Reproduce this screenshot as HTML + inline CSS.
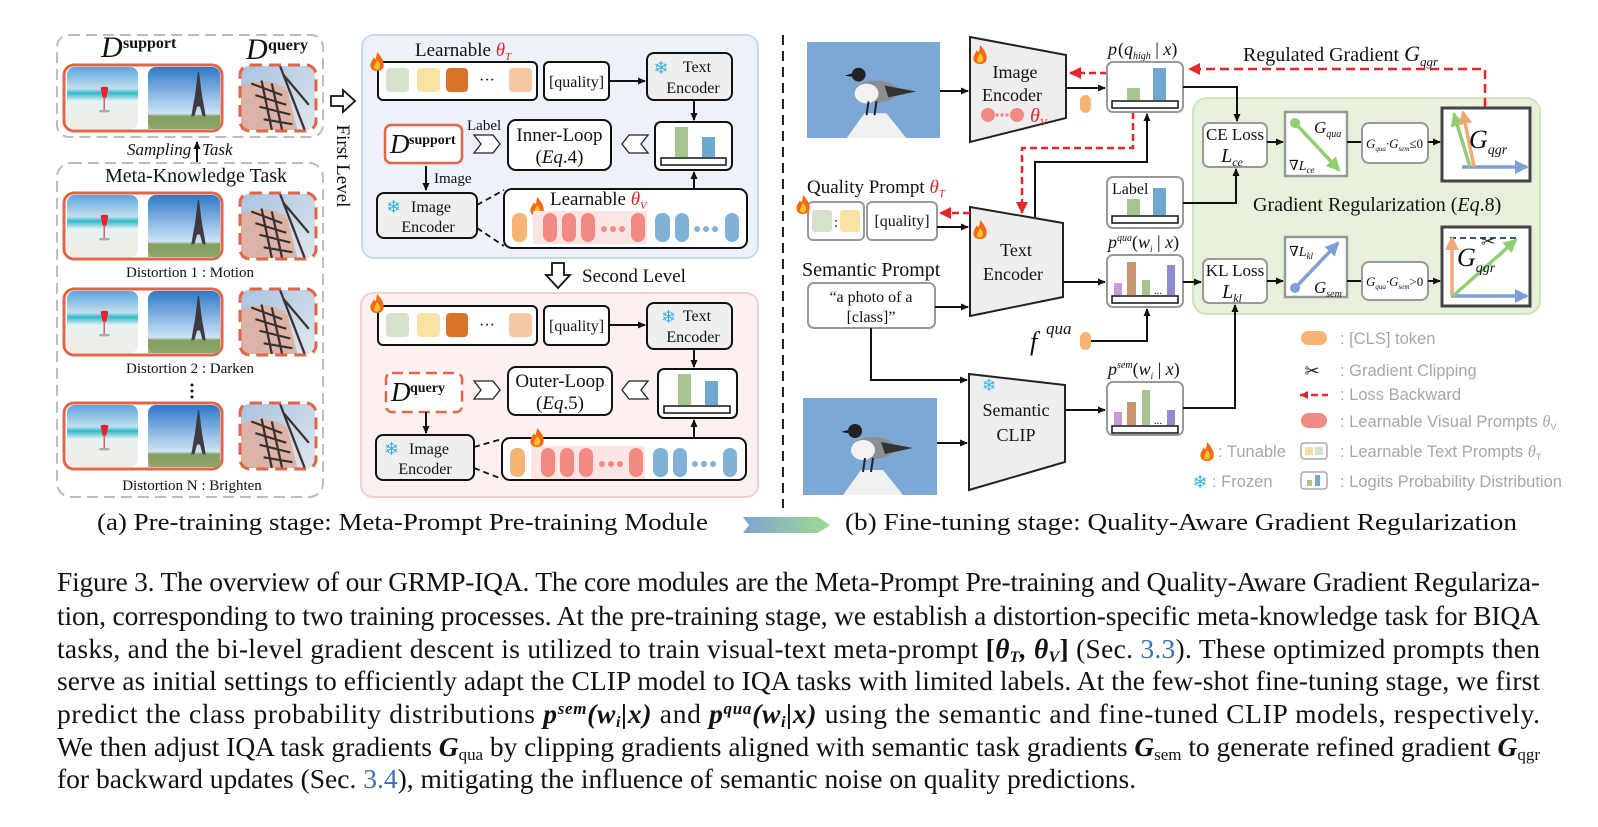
<!DOCTYPE html>
<html><head><meta charset="utf-8"><style>
html,body{margin:0;padding:0;background:#fff;}
svg{display:block;}
text{font-family:"Liberation Serif","DejaVu Serif",serif;fill:#111;}
.s{font-family:"Liberation Sans","DejaVu Sans",sans-serif;}
.lg{font-family:"Liberation Sans","DejaVu Sans",sans-serif;fill:#a6a6a6;font-size:16.5px;}
</style></head><body>
<svg width="1598" height="827" viewBox="0 0 1598 827" xmlns="http://www.w3.org/2000/svg">
<defs>
<marker id="ab" markerWidth="8" markerHeight="8" refX="7" refY="4" orient="auto" markerUnits="userSpaceOnUse"><path d="M0,0.5 L8,4 L0,7.5Z" fill="#111"/></marker>
<marker id="ar" markerWidth="12" markerHeight="12" refX="11" refY="6" orient="auto" markerUnits="userSpaceOnUse"><path d="M0,0 L12,6 L0,12Z" fill="#e8252a"/></marker>
<marker id="ag" markerWidth="14" markerHeight="14" refX="12" refY="7" orient="auto" markerUnits="userSpaceOnUse"><path d="M0,0 L14,7 L0,14Z" fill="#8fcf6f"/></marker>
<marker id="abl" markerWidth="14" markerHeight="14" refX="12" refY="7" orient="auto" markerUnits="userSpaceOnUse"><path d="M0,0 L14,7 L0,14Z" fill="#7f9fd8"/></marker>
<marker id="ao" markerWidth="14" markerHeight="14" refX="12" refY="7" orient="auto" markerUnits="userSpaceOnUse"><path d="M0,0 L14,7 L0,14Z" fill="#f0a878"/></marker>
<linearGradient id="sky1" x1="0" y1="0" x2="0" y2="1"><stop offset="0" stop-color="#5fa3d8"/><stop offset="0.35" stop-color="#bfe0f0"/><stop offset="0.42" stop-color="#2fb8c8"/><stop offset="0.55" stop-color="#e8f2f2"/><stop offset="1" stop-color="#f1ece4"/></linearGradient>
<linearGradient id="sky2" x1="0" y1="0" x2="0" y2="1"><stop offset="0" stop-color="#2f78c8"/><stop offset="0.75" stop-color="#cfe4f5"/><stop offset="0.8" stop-color="#7a9a5a"/><stop offset="1" stop-color="#9cae72"/></linearGradient>
<linearGradient id="sky3" x1="0" y1="0" x2="1" y2="1"><stop offset="0" stop-color="#a9c3df"/><stop offset="1" stop-color="#dfe7ef"/></linearGradient>
<linearGradient id="gar" x1="0" y1="0" x2="1" y2="0"><stop offset="0" stop-color="#7ea3d6"/><stop offset="1" stop-color="#9fdc8e"/></linearGradient>
<symbol id="beach" viewBox="0 0 72 66" preserveAspectRatio="none"><rect width="72" height="66" rx="8" fill="url(#sky1)"/><path d="M34,22 q4,-2 8,0 l-2,10 q-2,3 -4,0Z" fill="#e8202c"/><rect x="37" y="32" width="1.5" height="14" fill="#c66"/><ellipse cx="38" cy="47" rx="6" ry="1.5" fill="#aaa"/></symbol>
<symbol id="eiffel" viewBox="0 0 72 66" preserveAspectRatio="none"><rect width="72" height="66" rx="8" fill="url(#sky2)"/><path d="M50,5 L51,5 L54,30 L58,54 L55,54 L52,42 L49,42 L46,54 L43,54 L47,30Z" fill="#3a3a40"/><rect x="0" y="52" width="72" height="14" fill="#8aa064" opacity="0.8"/></symbol>
<symbol id="mill" viewBox="0 0 72 66" preserveAspectRatio="none"><rect width="72" height="66" rx="8" fill="url(#sky3)"/><path d="M0,20 Q30,10 45,25 L55,66 L0,66Z" fill="#dcb3a6"/><path d="M38,0 L62,66 M10,18 L40,30 M14,30 L44,40 M18,42 L48,50 M22,55 L50,60 M20,15 L30,66 M30,18 L40,66 M42,10 L66,40" stroke="#3a3030" stroke-width="2.2" fill="none"/></symbol>
<symbol id="bird" viewBox="0 0 134 97" preserveAspectRatio="none"><rect width="134" height="97" fill="#7da7d5"/><path d="M40,97 L58,72 L80,72 L100,97Z" fill="#eef0f2"/><ellipse cx="70" cy="50" rx="22" ry="11" fill="#8a8e95"/><ellipse cx="60" cy="52" rx="12" ry="10" fill="#f2f2f2"/><path d="M78,44 L110,50 L82,56Z" fill="#333"/><circle cx="52" cy="33" r="7" fill="#222"/><path d="M45,32 L38,34 L45,35Z" fill="#111"/><path d="M62,60 L60,74 M70,60 L68,74" stroke="#222" stroke-width="2"/></symbol>
<g id="fire"><path d="M0,-10 C6,-4 8,2 6,6 C4,10 -4,10 -6,6 C-8,2 -5,-1 -3,-5 C-2,-2 -1,-1 0,-10Z" fill="#f26a12"/><path d="M0,-2 C3,1 4,4 2,7 C0,8 -2,8 -3,6 C-3,3 -1,1 0,-2Z" fill="#ffc22e"/></g>
<g id="imgrow"><rect x="64" y="0" width="158" height="66" rx="10" fill="#fff" stroke="#e0654a" stroke-width="3"/><use href="#beach" x="67" y="2" width="71" height="62"/><use href="#eiffel" x="148" y="2" width="72" height="62"/><use href="#mill" x="241" y="1" width="74" height="64"/><rect x="240" y="0" width="76" height="66" rx="10" fill="none" stroke="#e0654a" stroke-width="3" stroke-dasharray="12 7"/></g>
</defs>

<!-- LEFT (a) -->
<rect x="57" y="35" width="266" height="102" rx="12" fill="none" stroke="#bdbdbd" stroke-width="2" stroke-dasharray="11 6"/>
<text x="101" y="57" font-size="30" font-style="italic">D</text><text x="123" y="48" font-size="16" font-weight="bold">support</text>
<text x="246" y="59" font-size="30" font-style="italic">D</text><text x="268" y="50" font-size="16" font-weight="bold">query</text>
<use href="#imgrow" x="0" y="65"/>
<text x="127" y="155" font-size="17" font-style="italic">Sampling</text>
<line x1="197" y1="162" x2="197" y2="142" stroke="#111" stroke-width="2" marker-end="url(#ab)"/>
<text x="202" y="155" font-size="17" font-style="italic">Task</text>
<rect x="57" y="163" width="266" height="334" rx="14" fill="none" stroke="#bdbdbd" stroke-width="2" stroke-dasharray="11 6"/>
<text x="196" y="182" font-size="20" text-anchor="middle">Meta-Knowledge Task</text>
<use href="#imgrow" x="0" y="193"/>
<text x="190" y="277" font-size="15" text-anchor="middle">Distortion 1 : Motion</text>
<use href="#imgrow" x="0" y="289"/>
<text x="190" y="373" font-size="15" text-anchor="middle">Distortion 2 : Darken</text>
<circle cx="192" cy="385" r="1.5" fill="#111"/><circle cx="192" cy="391" r="1.5" fill="#111"/><circle cx="192" cy="397" r="1.5" fill="#111"/>
<use href="#imgrow" x="0" y="403"/>
<text x="192" y="490" font-size="15" text-anchor="middle">Distortion N : Brighten</text>

<polygon points="331,96 343,96 343,90 355,101 343,112 343,106 331,106" fill="#fff" stroke="#111" stroke-width="1.8"/>
<text transform="translate(337,166) rotate(90)" font-size="19" text-anchor="middle">First  Level</text>

<!-- Blue box -->
<rect x="362" y="35" width="396" height="223" rx="12" fill="#edf2fa" stroke="#cbd8ea" stroke-width="2"/>
<text x="415" y="56" font-size="19">Learnable <tspan fill="#e0262b" font-style="italic">θ</tspan><tspan fill="#e0262b" font-style="italic" font-size="11" dy="4">T</tspan></text>
<rect x="378" y="62" width="159" height="38" rx="5" fill="#fff" stroke="#111" stroke-width="2"/>
<rect x="386" y="68" width="23" height="24" rx="4" fill="#d5e1c8"/><rect x="417" y="68" width="23" height="24" rx="4" fill="#f9e2a3"/><rect x="446" y="68" width="22" height="24" rx="4" fill="#d8732a"/><text x="487" y="85" font-size="16" text-anchor="middle">···</text><rect x="509" y="68" width="23" height="24" rx="4" fill="#f6c7a2"/>
<use href="#fire" x="377" y="62"/>
<rect x="544" y="62" width="65" height="38" rx="5" fill="#fff" stroke="#111" stroke-width="2"/><text x="576.5" y="87" font-size="16" text-anchor="middle">[quality]</text>
<line x1="609" y1="81" x2="645" y2="81" stroke="#111" stroke-width="2" marker-end="url(#ab)"/>
<rect x="647" y="53" width="85" height="47" rx="7" fill="#efefef" stroke="#111" stroke-width="2"/>
<text x="661" y="74" font-size="18" text-anchor="middle" class="s" style="fill:#38b3e0">❄</text>
<text x="697" y="72" font-size="16" text-anchor="middle">Text</text><text x="693" y="93" font-size="16" text-anchor="middle">Encoder</text>
<line x1="694" y1="100" x2="694" y2="120" stroke="#111" stroke-width="2" marker-end="url(#ab)"/>
<rect x="655" y="122" width="77" height="48" rx="6" fill="#fff" stroke="#111" stroke-width="2"/>
<rect x="675" y="127" width="13" height="30" fill="#a9c58f"/><rect x="702" y="137" width="13" height="20" fill="#6fa8cf"/>
<rect x="661" y="158" width="65" height="7" fill="#fff" stroke="#111" stroke-width="1.5"/>
<rect x="385" y="125" width="77" height="38" rx="6" fill="#fff" stroke="#e0654a" stroke-width="2.5"/>
<text x="390" y="153" font-size="27" font-style="italic">D</text><text x="409" y="144" font-size="14" font-weight="bold">support</text>
<text x="467" y="130" font-size="15">Label</text>
<polygon points="474,135 493,135 500,144 493,153 474,153 481,144" fill="#fff" stroke="#222" stroke-width="1.3"/>
<rect x="508" y="120" width="103" height="50" rx="8" fill="#fff" stroke="#111" stroke-width="2"/>
<text x="559.5" y="141" font-size="19" text-anchor="middle">Inner-Loop</text><text x="559.5" y="163" font-size="19" text-anchor="middle">(<tspan font-style="italic">Eq</tspan>.4)</text>
<polygon points="648,135 629,135 622,144 629,153 648,153 641,144" fill="#fff" stroke="#222" stroke-width="1.3"/>
<line x1="426" y1="166" x2="426" y2="190" stroke="#111" stroke-width="2" marker-end="url(#ab)"/>
<text x="434" y="183" font-size="15">Image</text>
<rect x="377" y="193" width="100" height="45" rx="7" fill="#efefef" stroke="#111" stroke-width="2"/>
<text x="386" y="213" font-size="18" class="s" style="fill:#38b3e0">❄</text>
<text x="431" y="212" font-size="16" text-anchor="middle">Image</text><text x="428" y="232" font-size="16" text-anchor="middle">Encoder</text>
<line x1="477" y1="205" x2="504" y2="190" stroke="#111" stroke-width="1.8" stroke-dasharray="6 4"/>
<line x1="477" y1="228" x2="504" y2="246" stroke="#111" stroke-width="1.8" stroke-dasharray="6 4"/>
<rect x="504" y="189" width="243" height="59" rx="8" fill="#fff" stroke="#111" stroke-width="2"/>
<text x="550" y="205" font-size="19">Learnable <tspan fill="#e0262b" font-style="italic">θ</tspan><tspan fill="#e0262b" font-style="italic" font-size="11" dy="4">V</tspan></text>
<use href="#fire" x="537" y="207"/>
<g id="tokA">
<rect x="512" y="213" width="15" height="29" rx="7" fill="#f6b477"/>
<rect x="533" y="211" width="114" height="33" fill="#fbe4e2"/>
<rect x="543" y="213" width="14" height="29" rx="7" fill="#f28983"/><rect x="562" y="213" width="14" height="29" rx="7" fill="#f28983"/><rect x="581" y="213" width="14" height="29" rx="7" fill="#f28983"/>
<circle cx="604" cy="229" r="3" fill="#f28983"/><circle cx="613" cy="229" r="3" fill="#f28983"/><circle cx="622" cy="229" r="3" fill="#f28983"/>
<rect x="631" y="213" width="14" height="29" rx="7" fill="#f28983"/>
<rect x="655" y="213" width="15" height="29" rx="7" fill="#7fb2d6"/><rect x="675" y="213" width="14" height="29" rx="7" fill="#7fb2d6"/>
<circle cx="697" cy="229" r="3" fill="#7fb2d6"/><circle cx="706" cy="229" r="3" fill="#7fb2d6"/><circle cx="715" cy="229" r="3" fill="#7fb2d6"/>
<rect x="725" y="213" width="14" height="29" rx="7" fill="#7fb2d6"/>
</g>
<line x1="694" y1="189" x2="694" y2="172" stroke="#111" stroke-width="2" marker-end="url(#ab)"/>

<polygon points="552,263 564,263 564,275 570,275 558,288 546,275 552,275" fill="#fff" stroke="#111" stroke-width="1.8"/>
<text x="582" y="282" font-size="19">Second  Level</text>

<!-- Pink box -->
<rect x="361" y="293" width="397" height="204" rx="12" fill="#fcf0f0" stroke="#f2d0d0" stroke-width="2"/>
<rect x="378" y="306" width="159" height="39" rx="5" fill="#fff" stroke="#111" stroke-width="2"/>
<rect x="386" y="313" width="23" height="24" rx="4" fill="#d5e1c8"/><rect x="417" y="313" width="23" height="24" rx="4" fill="#f9e2a3"/><rect x="446" y="313" width="22" height="24" rx="4" fill="#d8732a"/><text x="487" y="330" font-size="16" text-anchor="middle">···</text><rect x="509" y="313" width="23" height="24" rx="4" fill="#f6c7a2"/>
<use href="#fire" x="377" y="304"/>
<rect x="544" y="306" width="65" height="39" rx="5" fill="#fff" stroke="#111" stroke-width="2"/><text x="576.5" y="331" font-size="16" text-anchor="middle">[quality]</text>
<line x1="609" y1="325" x2="645" y2="325" stroke="#111" stroke-width="2" marker-end="url(#ab)"/>
<rect x="647" y="303" width="85" height="46" rx="7" fill="#efefef" stroke="#111" stroke-width="2"/>
<text x="661" y="323" font-size="18" class="s" style="fill:#38b3e0">❄</text>
<text x="697" y="321" font-size="16" text-anchor="middle">Text</text><text x="693" y="342" font-size="16" text-anchor="middle">Encoder</text>
<line x1="694" y1="349" x2="694" y2="367" stroke="#111" stroke-width="2" marker-end="url(#ab)"/>
<rect x="658" y="369" width="79" height="49" rx="6" fill="#fff" stroke="#111" stroke-width="2"/>
<rect x="678" y="374" width="13" height="31" fill="#a9c58f"/><rect x="705" y="381" width="13" height="24" fill="#6fa8cf"/>
<rect x="664" y="406" width="66" height="7" fill="#fff" stroke="#111" stroke-width="1.5"/>
<rect x="386" y="373" width="76" height="39" rx="6" fill="#fff" stroke="#e0654a" stroke-width="2.5" stroke-dasharray="11 6"/>
<text x="391" y="401" font-size="27" font-style="italic">D</text><text x="410" y="392" font-size="14" font-weight="bold">query</text>
<polygon points="474,381 493,381 500,390 493,399 474,399 481,390" fill="#fff" stroke="#222" stroke-width="1.3"/>
<rect x="508" y="367" width="104" height="48" rx="8" fill="#fff" stroke="#111" stroke-width="2"/>
<text x="560" y="387" font-size="19" text-anchor="middle">Outer-Loop</text><text x="560" y="409" font-size="19" text-anchor="middle">(<tspan font-style="italic">Eq</tspan>.5)</text>
<polygon points="648,381 629,381 622,390 629,399 648,399 641,390" fill="#fff" stroke="#222" stroke-width="1.3"/>
<line x1="426" y1="412" x2="426" y2="433" stroke="#111" stroke-width="2" marker-end="url(#ab)"/>
<rect x="376" y="435" width="98" height="45" rx="7" fill="#efefef" stroke="#111" stroke-width="2"/>
<text x="384" y="455" font-size="18" class="s" style="fill:#38b3e0">❄</text>
<text x="429" y="454" font-size="16" text-anchor="middle">Image</text><text x="425" y="474" font-size="16" text-anchor="middle">Encoder</text>
<line x1="474" y1="447" x2="502" y2="439" stroke="#111" stroke-width="1.8" stroke-dasharray="6 4"/>
<line x1="474" y1="468" x2="502" y2="479" stroke="#111" stroke-width="1.8" stroke-dasharray="6 4"/>
<rect x="502" y="438" width="244" height="42" rx="8" fill="#fff" stroke="#111" stroke-width="2"/>
<use href="#tokA" x="-2" y="235"/>
<use href="#fire" x="537" y="438"/>
<line x1="694" y1="438" x2="694" y2="420" stroke="#111" stroke-width="2" marker-end="url(#ab)"/>

<!-- divider -->
<line x1="783" y1="35" x2="783" y2="508" stroke="#222" stroke-width="2" stroke-dasharray="10 6"/>

<!-- RIGHT (b) -->
<use href="#bird" x="807" y="42" width="133" height="96"/>
<use href="#bird" x="803" y="398" width="134" height="97"/>
<polygon points="970,37 1066,55 1066,118 970,142" fill="#eeeeee" stroke="#222" stroke-width="2"/>
<use href="#fire" x="980" y="55"/>
<text x="1015" y="78" font-size="18" text-anchor="middle">Image</text><text x="1012" y="101" font-size="18" text-anchor="middle">Encoder</text>
<circle cx="988" cy="115" r="7" fill="#f28983"/><circle cx="997" cy="115" r="1.7" fill="#f28983"/><circle cx="1002" cy="115" r="1.7" fill="#f28983"/><circle cx="1007" cy="115" r="1.7" fill="#f28983"/><circle cx="1017" cy="115" r="7" fill="#f28983"/>
<text x="1030" y="122" font-size="20" font-style="italic" style="fill:#e0262b">θ<tspan font-size="11" dy="4">V</tspan></text>
<line x1="940" y1="91" x2="968" y2="91" stroke="#111" stroke-width="2" marker-end="url(#ab)"/>
<line x1="1066" y1="88" x2="1105" y2="88" stroke="#111" stroke-width="2" marker-end="url(#ab)"/>
<rect x="1080" y="95" width="11" height="18" rx="5.5" fill="#f6b477"/>

<polygon points="970,207 1063,223 1063,297 970,316" fill="#eeeeee" stroke="#222" stroke-width="2"/>
<use href="#fire" x="980" y="230"/>
<text x="1016" y="256" font-size="18" text-anchor="middle">Text</text><text x="1013" y="280" font-size="18" text-anchor="middle">Encoder</text>
<polygon points="969,374 1065,385 1065,462 969,490" fill="#eeeeee" stroke="#222" stroke-width="2"/>
<text x="982" y="391" font-size="17" class="s" style="fill:#38b3e0">❄</text>
<text x="1016" y="416" font-size="18" text-anchor="middle">Semantic</text><text x="1016" y="441" font-size="18" text-anchor="middle">CLIP</text>

<text x="807" y="193" font-size="19">Quality Prompt <tspan fill="#e0262b" font-style="italic">θ</tspan><tspan fill="#e0262b" font-style="italic" font-size="11" dy="4">T</tspan></text>
<rect x="808" y="202" width="56" height="38" rx="5" fill="#fff" stroke="#999" stroke-width="2"/>
<rect x="812" y="210" width="20" height="22" rx="3" fill="#d5e1c8"/><text x="836" y="227" font-size="15" text-anchor="middle">:</text><rect x="840" y="210" width="20" height="22" rx="3" fill="#f9e2a3"/>
<use href="#fire" x="803" y="205"/>
<rect x="867" y="202" width="70" height="38" rx="5" fill="#fff" stroke="#999" stroke-width="2"/><text x="902" y="226" font-size="16" text-anchor="middle">[quality]</text>
<line x1="937" y1="227" x2="968" y2="227" stroke="#111" stroke-width="2" marker-end="url(#ab)"/>
<line x1="970" y1="213" x2="940" y2="213" stroke="#e8252a" stroke-width="2.5" stroke-dasharray="7 4" marker-end="url(#ar)"/>
<text x="802" y="276" font-size="20">Semantic Prompt</text>
<rect x="808" y="283" width="127" height="45" rx="6" fill="#fff" stroke="#999" stroke-width="2"/>
<text x="871" y="302" font-size="16" text-anchor="middle">“a photo of a</text><text x="871" y="322" font-size="16" text-anchor="middle">[class]”</text>
<line x1="935" y1="307" x2="968" y2="307" stroke="#111" stroke-width="2" marker-end="url(#ab)"/>
<polyline points="871,328 871,380 967,380" fill="none" stroke="#111" stroke-width="2" marker-end="url(#ab)"/>
<line x1="937" y1="443" x2="967" y2="443" stroke="#111" stroke-width="2" marker-end="url(#ab)"/>

<polyline points="1035,217 1035,162 1147,162 1147,114" fill="none" stroke="#111" stroke-width="2" marker-end="url(#ab)"/>
<polyline points="1133,112 1133,148 1022,148 1022,213" fill="none" stroke="#e8252a" stroke-width="2.5" stroke-dasharray="7 4" marker-end="url(#ar)"/>
<line x1="1107" y1="73" x2="1070" y2="73" stroke="#e8252a" stroke-width="2.5" stroke-dasharray="7 4" marker-end="url(#ar)"/>

<text x="1108" y="55" font-size="18" font-style="italic">p</text><text x="1118" y="55" font-size="18">(<tspan font-style="italic">q</tspan><tspan font-size="10" font-style="italic" dy="4">high</tspan><tspan dy="-4"> | </tspan><tspan font-style="italic">x</tspan>)</text>
<rect x="1107" y="62" width="76" height="50" rx="6" fill="#fff" stroke="#999" stroke-width="2"/>
<rect x="1127" y="88" width="13" height="12" fill="#a9c58f"/><rect x="1153" y="68" width="13" height="32" fill="#6fa8cf"/>
<rect x="1112" y="101" width="66" height="7" fill="#fff" stroke="#111" stroke-width="1.5"/>

<!-- green region -->
<rect x="1193" y="98" width="347" height="216" rx="14" fill="#e6f0da" stroke="#cfe2bd" stroke-width="2"/>
<text x="1243" y="61" font-size="20">Regulated  Gradient  <tspan font-style="italic" font-size="22">G</tspan><tspan font-style="italic" font-size="13" dy="5">qgr</tspan></text>
<polyline points="1485,107 1485,69 1189,69" fill="none" stroke="#e8252a" stroke-width="2.5" stroke-dasharray="9 5" marker-end="url(#ar)"/>
<polyline points="1183,87 1237,87 1237,121" fill="none" stroke="#111" stroke-width="2" marker-end="url(#ab)"/>

<rect x="1107" y="177" width="76" height="51" rx="6" fill="#fff" stroke="#999" stroke-width="2"/>
<text x="1112" y="194" font-size="16">Label</text>
<rect x="1127" y="199" width="13" height="16" fill="#a9c58f"/><rect x="1153" y="188" width="13" height="27" fill="#6fa8cf"/>
<rect x="1112" y="216" width="66" height="7" fill="#fff" stroke="#111" stroke-width="1.5"/>
<polyline points="1183,203 1236,203 1236,169" fill="none" stroke="#111" stroke-width="2" marker-end="url(#ab)"/>

<rect x="1203" y="123" width="64" height="44" rx="6" fill="#fff" stroke="#999" stroke-width="2"/>
<text x="1235" y="140" font-size="17" text-anchor="middle">CE Loss</text><text x="1232" y="162" font-size="20" font-style="italic" text-anchor="middle">L<tspan font-size="12" dy="4">ce</tspan></text>
<line x1="1267" y1="142" x2="1283" y2="142" stroke="#111" stroke-width="2" marker-end="url(#ab)"/>
<rect x="1285" y="112" width="62" height="64" fill="#fff" stroke="#999" stroke-width="2.5"/>
<circle cx="1295" cy="123" r="5" fill="#8fcf6f"/><line x1="1295" y1="123" x2="1339" y2="170" stroke="#8fcf6f" stroke-width="3.5" marker-end="url(#ag)"/>
<text x="1314" y="133" font-size="17" font-style="italic">G<tspan font-size="10" dy="4">qua</tspan></text>
<text x="1289" y="170" font-size="14" font-style="italic">∇L<tspan font-size="9" dy="3">ce</tspan></text>
<line x1="1347" y1="142" x2="1362" y2="142" stroke="#111" stroke-width="2"/>
<rect x="1362" y="123" width="66" height="40" rx="7" fill="#fff" stroke="#999" stroke-width="2"/>
<text x="1366" y="148" font-size="13" font-style="italic">G<tspan font-size="7" dy="3">qua</tspan><tspan dy="-3">·G</tspan><tspan font-size="7" dy="3">sem</tspan><tspan dy="-3" font-style="normal">≤0</tspan></text>
<line x1="1428" y1="142" x2="1440" y2="142" stroke="#111" stroke-width="2" marker-end="url(#ab)"/>
<rect x="1442" y="108" width="88" height="73" fill="#fff" stroke="#454545" stroke-width="3"/>
<line x1="1462" y1="167" x2="1527" y2="167" stroke="#7f9fd8" stroke-width="3.5" marker-end="url(#abl)"/>
<line x1="1470" y1="167" x2="1454" y2="114" stroke="#8fcf6f" stroke-width="3.5" marker-end="url(#ag)"/>
<line x1="1474" y1="167" x2="1463" y2="112" stroke="#f0a878" stroke-width="3.5" marker-end="url(#ao)"/>
<text x="1469" y="148" font-size="26" font-style="italic">G<tspan font-size="14" dy="6">qgr</tspan></text>

<text x="1253" y="211" font-size="20">Gradient Regularization (<tspan font-style="italic">Eq</tspan>.8)</text>

<text x="1108" y="248" font-size="18" font-style="italic">p<tspan font-size="10" dy="-7">qua</tspan><tspan dy="7" font-style="normal">(</tspan>w<tspan font-size="9" dy="4">i</tspan><tspan dy="-4" font-style="normal"> | </tspan>x<tspan font-style="normal">)</tspan></text>
<rect x="1107" y="255" width="76" height="52" rx="6" fill="#fff" stroke="#999" stroke-width="2"/>
<rect x="1114" y="283" width="8" height="12" fill="#c99ad6"/><rect x="1127" y="262" width="9" height="33" fill="#c9956e"/><rect x="1142" y="280" width="8" height="15" fill="#a9c58f"/><text x="1158" y="294" font-size="11" text-anchor="middle">...</text><rect x="1167" y="265" width="8" height="30" fill="#8c8ccf"/>
<rect x="1112" y="296" width="66" height="7" fill="#fff" stroke="#111" stroke-width="1.5"/>
<line x1="1063" y1="282" x2="1105" y2="282" stroke="#111" stroke-width="2" marker-end="url(#ab)"/>
<line x1="1183" y1="282" x2="1201" y2="282" stroke="#111" stroke-width="2" marker-end="url(#ab)"/>
<rect x="1203" y="259" width="64" height="44" rx="6" fill="#fff" stroke="#999" stroke-width="2"/>
<text x="1235" y="276" font-size="17" text-anchor="middle">KL Loss</text><text x="1232" y="298" font-size="20" font-style="italic" text-anchor="middle">L<tspan font-size="12" dy="4">kl</tspan></text>
<line x1="1267" y1="281" x2="1283" y2="281" stroke="#111" stroke-width="2" marker-end="url(#ab)"/>
<rect x="1285" y="237" width="62" height="60" fill="#fff" stroke="#999" stroke-width="2.5"/>
<circle cx="1295" cy="288" r="5" fill="#7f9fd8"/><line x1="1295" y1="288" x2="1338" y2="243" stroke="#7f9fd8" stroke-width="3.5" marker-end="url(#abl)"/>
<text x="1289" y="256" font-size="14" font-style="italic">∇L<tspan font-size="9" dy="3">kl</tspan></text>
<text x="1314" y="293" font-size="17" font-style="italic">G<tspan font-size="10" dy="4">sem</tspan></text>
<line x1="1347" y1="281" x2="1362" y2="281" stroke="#111" stroke-width="2"/>
<rect x="1362" y="262" width="66" height="38" rx="7" fill="#fff" stroke="#999" stroke-width="2"/>
<text x="1366" y="286" font-size="13" font-style="italic">G<tspan font-size="7" dy="3">qua</tspan><tspan dy="-3">·G</tspan><tspan font-size="7" dy="3">sem</tspan><tspan dy="-3" font-style="normal">&gt;0</tspan></text>
<line x1="1428" y1="281" x2="1440" y2="281" stroke="#111" stroke-width="2" marker-end="url(#ab)"/>
<rect x="1442" y="227" width="88" height="79" fill="#fff" stroke="#454545" stroke-width="3"/>
<line x1="1450" y1="238" x2="1520" y2="238" stroke="#2d5a7a" stroke-width="2" stroke-dasharray="6 4"/>
<line x1="1451" y1="296" x2="1527" y2="296" stroke="#7f9fd8" stroke-width="3.5" marker-end="url(#abl)"/>
<line x1="1452" y1="296" x2="1452" y2="238" stroke="#f0a878" stroke-width="3.5" marker-end="url(#ao)"/>
<line x1="1453" y1="296" x2="1516" y2="240" stroke="#8fcf6f" stroke-width="3.5" marker-end="url(#ag)"/>
<text x="1488" y="247" font-size="17" text-anchor="middle" class="s" style="fill:#222">✂</text>
<text x="1457" y="266" font-size="26" font-style="italic">G<tspan font-size="14" dy="6">qgr</tspan></text>

<text x="1030" y="350" font-size="26" font-style="italic">f</text><text x="1046" y="334" font-size="17" font-style="italic">qua</text>
<rect x="1080" y="332" width="11" height="18" rx="5.5" fill="#f6b477"/>
<polyline points="1091,341 1147,341 1147,309" fill="none" stroke="#111" stroke-width="2" marker-end="url(#ab)"/>

<text x="1108" y="375" font-size="18" font-style="italic">p<tspan font-size="10" dy="-7">sem</tspan><tspan dy="7" font-style="normal">(</tspan>w<tspan font-size="9" dy="4">i</tspan><tspan dy="-4" font-style="normal"> | </tspan>x<tspan font-style="normal">)</tspan></text>
<rect x="1107" y="382" width="76" height="53" rx="6" fill="#fff" stroke="#999" stroke-width="2"/>
<rect x="1114" y="412" width="8" height="13" fill="#c99ad6"/><rect x="1127" y="402" width="9" height="23" fill="#c9956e"/><rect x="1142" y="390" width="8" height="35" fill="#a9c58f"/><text x="1158" y="424" font-size="11" text-anchor="middle">...</text><rect x="1167" y="410" width="8" height="15" fill="#8c8ccf"/>
<rect x="1112" y="426" width="66" height="7" fill="#fff" stroke="#111" stroke-width="1.5"/>
<line x1="1065" y1="410" x2="1105" y2="410" stroke="#111" stroke-width="2" marker-end="url(#ab)"/>
<polyline points="1183,408 1235,408 1235,305" fill="none" stroke="#111" stroke-width="2" marker-end="url(#ab)"/>

<!-- legend -->
<rect x="1301" y="331" width="26" height="14" rx="7" fill="#f6b477"/><text x="1340" y="344" class="lg">:  [CLS] token</text>
<text x="1312" y="377" font-size="18" text-anchor="middle" class="s" style="fill:#222">✂</text><text x="1340" y="376" class="lg">:  Gradient Clipping</text>
<line x1="1300" y1="395" x2="1328" y2="395" stroke="#e8252a" stroke-width="2.5" stroke-dasharray="7 4"/><path d="M1300,395 l8,-4 l0,8Z" fill="#e8252a"/><text x="1340" y="400" class="lg">:  Loss Backward</text>
<rect x="1301" y="413" width="26" height="15" rx="7.5" fill="#f28983"/><text x="1340" y="427" class="lg">:  Learnable Visual Prompts <tspan font-style="italic" font-family="Liberation Serif">θ</tspan><tspan font-size="9" dy="3">V</tspan></text>
<rect x="1301" y="443" width="26" height="16" rx="3" fill="#fff" stroke="#aaa" stroke-width="1.5"/><rect x="1305" y="447" width="8" height="8" fill="#f3dc9c"/><rect x="1315" y="447" width="8" height="8" fill="#d5e1c8"/><text x="1340" y="457" class="lg">:  Learnable Text Prompts <tspan font-style="italic" font-family="Liberation Serif">θ</tspan><tspan font-size="9" dy="3">T</tspan></text>
<rect x="1301" y="472" width="26" height="17" rx="3" fill="#fff" stroke="#aaa" stroke-width="1.5"/><rect x="1307" y="480" width="5" height="6" fill="#a9c58f"/><rect x="1315" y="475" width="5" height="11" fill="#6fa8cf"/><text x="1340" y="487" class="lg">:  Logits Probability Distribution</text>
<use href="#fire" x="1207" y="452"/><text x="1218" y="457" class="lg">:  Tunable</text>
<text x="1200" y="488" font-size="18" text-anchor="middle" class="s" style="fill:#38b3e0">❄</text><text x="1212" y="487" class="lg">:  Frozen</text>

<!-- sub captions -->
<text x="97" y="530" font-size="24" textLength="611" lengthAdjust="spacingAndGlyphs">(a) Pre-training stage: Meta-Prompt Pre-training Module</text>
<polygon points="743,517 818,517 830,525 818,533 743,533 749,525" fill="url(#gar)"/>
<text x="845" y="530" font-size="24" textLength="672" lengthAdjust="spacingAndGlyphs">(b) Fine-tuning stage: Quality-Aware Gradient Regularization</text>

<!-- figure caption -->
<g font-size="27.5">
<text x="57" y="591" textLength="1483" lengthAdjust="spacing">Figure 3. The overview of our GRMP-IQA. The core modules are the Meta-Prompt Pre-training and Quality-Aware Gradient Regulariza-</text>
<text x="57" y="625" textLength="1483" lengthAdjust="spacing">tion, corresponding to two training processes. At the pre-training stage, we establish a distortion-specific meta-knowledge task for BIQA</text>
<text x="57" y="658" textLength="1483" lengthAdjust="spacing">tasks, and the bi-level gradient descent is utilized to train visual-text meta-prompt <tspan font-weight="bold">[</tspan><tspan font-weight="bold" font-style="italic">θ<tspan font-size="16" dy="4">T</tspan><tspan dy="-4">, θ</tspan><tspan font-size="16" dy="4">V</tspan></tspan><tspan font-weight="bold" dy="-4">]</tspan> (Sec. <tspan style="fill:#3b6fb0">3.3</tspan>). These optimized prompts then</text>
<text x="57" y="690" textLength="1483" lengthAdjust="spacing">serve as initial settings to efficiently adapt the CLIP model to IQA tasks with limited labels. At the few-shot fine-tuning stage, we first</text>
<text x="57" y="723" textLength="1483" lengthAdjust="spacing">predict the class probability distributions <tspan font-weight="bold" font-style="italic">p<tspan font-size="17" dy="-9">sem</tspan><tspan dy="9">(w</tspan><tspan font-size="16" dy="4">i</tspan><tspan dy="-4">|x)</tspan></tspan> and <tspan font-weight="bold" font-style="italic">p<tspan font-size="17" dy="-9">qua</tspan><tspan dy="9">(w</tspan><tspan font-size="16" dy="4">i</tspan><tspan dy="-4">|x)</tspan></tspan> using the semantic and fine-tuned CLIP models, respectively.</text>
<text x="57" y="756" textLength="1483" lengthAdjust="spacing">We then adjust IQA task gradients <tspan font-weight="bold" font-style="italic">G</tspan><tspan font-size="17" dy="4">qua</tspan><tspan dy="-4"> by clipping gradients aligned with semantic task gradients </tspan><tspan font-weight="bold" font-style="italic">G</tspan><tspan font-size="17" dy="4">sem</tspan><tspan dy="-4"> to generate refined gradient </tspan><tspan font-weight="bold" font-style="italic">G</tspan><tspan font-size="17" dy="4">qgr</tspan></text>
<text x="57" y="788">for backward updates (Sec. <tspan style="fill:#3b6fb0">3.4</tspan>), mitigating the influence of semantic noise on quality predictions.</text>
</g>
</svg>
</body></html>
